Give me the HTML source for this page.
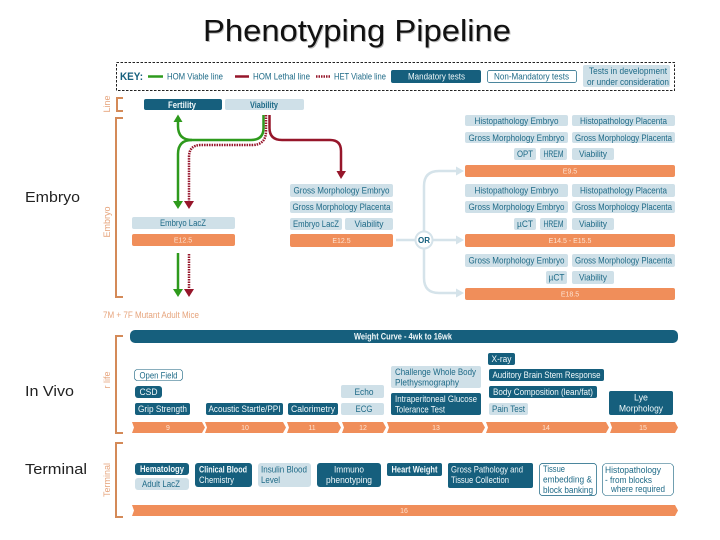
<!DOCTYPE html>
<html><head><meta charset="utf-8">
<style>
html,body{margin:0;padding:0;background:#fff;width:720px;height:540px;overflow:hidden}
svg{display:block}
text{font-family:"Liberation Sans",sans-serif}
.d{fill:#125f7d}.l{fill:#cfe0e8}.o{fill:#f08e5a}
.w{fill:#f2f8fa;font-size:9px}
.t{fill:#1f6a87;font-size:9px}
.c{text-anchor:middle}
.n{fill:#fde3d2;font-size:7px;text-anchor:middle}
.b{fill:none;stroke:#d48a58;stroke-width:2}
.lab{fill:#e6a47c;font-size:9px;text-anchor:middle}
.sl{fill:none;stroke:#d5e3ea;stroke-width:2.5}
</style></head><body>
<svg width="720" height="540" viewBox="0 0 720 540" xmlns="http://www.w3.org/2000/svg">
<defs><filter id="s" x="-5%" y="-5%" width="110%" height="110%"><feGaussianBlur stdDeviation="0.3"/></filter></defs>
<rect width="720" height="540" fill="#fff"/>
<text x="204" y="42" font-size="31" fill="#bbb" textLength="308" lengthAdjust="spacingAndGlyphs">Phenotyping Pipeline</text>
<text x="203" y="41" font-size="31" fill="#111" textLength="308" lengthAdjust="spacingAndGlyphs">Phenotyping Pipeline</text>
<text x="25" y="202" font-size="15" fill="#222" textLength="55" lengthAdjust="spacingAndGlyphs">Embryo</text>
<text x="25" y="396" font-size="15" fill="#222" textLength="49" lengthAdjust="spacingAndGlyphs">In Vivo</text>
<text x="25" y="474" font-size="15" fill="#222" textLength="62" lengthAdjust="spacingAndGlyphs">Terminal</text>

<g filter="url(#s)">
<!-- key -->
<rect x="116.500" y="62.500" width="558" height="28" fill="none" stroke="#222" stroke-width="1" stroke-dasharray="2.500 1.500"/>
<text x="120" y="80" font-size="11" font-weight="bold" fill="#125f7d" textLength="23" lengthAdjust="spacingAndGlyphs">KEY:</text>
<path d="M148 76.500H163" stroke="#2f9a1f" stroke-width="2.500"/>
<text x="167" y="79.500" class="t" textLength="56" lengthAdjust="spacingAndGlyphs">HOM Viable line</text>
<path d="M235 76.500H249" stroke="#96142c" stroke-width="2.500"/>
<text x="253" y="79.500" class="t" textLength="57" lengthAdjust="spacingAndGlyphs">HOM Lethal line</text>
<path d="M316 76.500H330" stroke="#96142c" stroke-width="2.500" stroke-dasharray="1.500 1"/>
<text x="334" y="79.500" class="t" textLength="52" lengthAdjust="spacingAndGlyphs">HET Viable line</text>
<rect x="391" y="70" width="90" height="13" rx="2" class="d"/>
<text x="408" y="79.500" class="w" textLength="57" lengthAdjust="spacingAndGlyphs">Mandatory tests</text>
<rect x="487.500" y="70.500" width="89" height="12" rx="2" fill="#fff" stroke="#125f7d" stroke-width="0.700"/>
<text x="494" y="79.500" class="t" textLength="75" lengthAdjust="spacingAndGlyphs">Non-Mandatory tests</text>
<rect x="583" y="65" width="87" height="22" rx="2" class="l"/>
<text x="589" y="74" class="t" textLength="78" lengthAdjust="spacingAndGlyphs">Tests in development</text>
<text x="587" y="85" class="t" textLength="82" lengthAdjust="spacingAndGlyphs">or under consideration</text>

<!-- brackets -->
<path class="b" d="M123 98H117V111H123"/>
<path class="b" d="M123 118H116V297H123"/>
<path class="b" d="M123 336H116V433H123"/>
<path class="b" d="M123 443H116V517H123"/>
<text class="lab" transform="translate(110,104) rotate(-90)">Line</text>
<text class="lab" transform="translate(110,222) rotate(-90)">Embryo</text>
<text class="lab" transform="translate(110,380) rotate(-90)">r life</text>
<text class="lab" transform="translate(110,480) rotate(-90)">Terminal</text>
<text x="103" y="318" fill="#e6a47c" font-size="9" textLength="96" lengthAdjust="spacingAndGlyphs">7M + 7F Mutant Adult Mice</text>

<!-- top row -->
<rect x="144" y="99" width="78" height="11" rx="2" class="d"/>
<text x="182" y="108" class="w c" font-weight="bold" textLength="28" lengthAdjust="spacingAndGlyphs">Fertility</text>
<rect x="225" y="99" width="79" height="11" rx="2" class="l"/>
<text x="264" y="108" class="t c" font-weight="bold" textLength="28" lengthAdjust="spacingAndGlyphs">Viability</text>

<!-- arrows -->
<g fill="none" stroke-width="2.500">
<path d="M263.500 115V128Q263.500 140 251 140H192Q178 140 178 126V120" stroke="#2f9a1f"/>
<path d="M192 140Q178 140 178 154V202" stroke="#2f9a1f"/>
<path d="M266 115V131Q266 145 252 145H201Q189 145 189 157V202" stroke="#96142c" stroke-dasharray="1.500 1"/>
<path d="M269.500 115V128Q269.500 140 282 140H330Q341 140 341 151V172" stroke="#96142c"/>
<path d="M178 253V291" stroke="#2f9a1f"/>
<path d="M189 254V291" stroke="#96142c" stroke-dasharray="1.500 1"/>
</g>
<path d="M173.500 122L178 114.500L182.500 122Z" fill="#2f9a1f"/>
<path d="M173 201L183 201L178 209Z" fill="#2f9a1f"/>
<path d="M184 201L194 201L189 209Z" fill="#96142c"/>
<path d="M336.500 171L346 171L341 179Z" fill="#96142c"/>
<path d="M173 289L183 289L178 297Z" fill="#2f9a1f"/>
<path d="M184 289L194 289L189 297Z" fill="#96142c"/>

<!-- left embryo -->
<rect x="132" y="217" width="103" height="12" rx="2" class="l"/>
<text x="183" y="226" class="t c" textLength="46" lengthAdjust="spacingAndGlyphs">Embryo LacZ</text>
<rect x="132" y="234" width="103" height="12" rx="2" class="o"/>
<text x="183" y="242.500" class="n">E12.5</text>

<!-- middle -->
<rect x="290" y="184" width="103" height="13" rx="2" class="l"/>
<text x="341.500" y="193.500" class="t c" textLength="96" lengthAdjust="spacingAndGlyphs">Gross Morphology Embryo</text>
<rect x="290" y="201" width="103" height="12" rx="2" class="l"/>
<text x="341.500" y="210" class="t c" textLength="98" lengthAdjust="spacingAndGlyphs">Gross Morphology Placenta</text>
<rect x="290" y="218" width="52" height="12" rx="2" class="l"/>
<text x="316" y="227" class="t c" textLength="46" lengthAdjust="spacingAndGlyphs">Embryo LacZ</text>
<rect x="345" y="218" width="48" height="12" rx="2" class="l"/>
<text x="369" y="227" class="t c" textLength="29" lengthAdjust="spacingAndGlyphs">Viability</text>
<rect x="290" y="234" width="103" height="13" rx="2" class="o"/>
<text x="341.500" y="243" class="n">E12.5</text>

<!-- OR connector -->
<path class="sl" d="M396 240H416M432 240H458"/>
<path class="sl" d="M424 232V186Q424 171 439 171H458"/>
<path class="sl" d="M424 248V278Q424 293 439 293H458"/>
<path d="M456 166.500L464 171L456 175.500ZM456 235.500L464 240L456 244.500ZM456 288.500L464 293L456 297.500Z" fill="#d5e3ea"/>
<circle cx="424" cy="240" r="8.500" fill="#fff" stroke="#d5e3ea" stroke-width="2"/>
<text x="424" y="243" font-size="8" font-weight="bold" fill="#125f7d" class="c">OR</text>

<!-- right column -->
<rect x="465" y="115" width="103" height="11" rx="2" class="l"/>
<text x="516.500" y="124" class="t c" textLength="84" lengthAdjust="spacingAndGlyphs">Histopathology Embryo</text>
<rect x="572" y="115" width="103" height="11" rx="2" class="l"/>
<text x="623.500" y="124" class="t c" textLength="87" lengthAdjust="spacingAndGlyphs">Histopathology Placenta</text>
<rect x="465" y="132" width="103" height="11" rx="2" class="l"/>
<text x="516.500" y="141" class="t c" textLength="96" lengthAdjust="spacingAndGlyphs">Gross Morphology Embryo</text>
<rect x="572" y="132" width="103" height="11" rx="2" class="l"/>
<text x="623.500" y="141" class="t c" textLength="97" lengthAdjust="spacingAndGlyphs">Gross Morphology Placenta</text>
<rect x="514" y="148" width="22" height="12" rx="2" class="l"/>
<text x="525" y="157" class="t c" textLength="16" lengthAdjust="spacingAndGlyphs">OPT</text>
<rect x="540" y="148" width="27" height="12" rx="2" class="l"/>
<text x="553.500" y="157" class="t c" textLength="20" lengthAdjust="spacingAndGlyphs">HREM</text>
<rect x="572" y="148" width="42" height="12" rx="2" class="l"/>
<text x="593" y="157" class="t c" textLength="28" lengthAdjust="spacingAndGlyphs">Viability</text>
<rect x="465" y="165" width="210" height="12" rx="2" class="o"/>
<text x="570" y="173.500" class="n">E9.5</text>

<rect x="465" y="184" width="103" height="13" rx="2" class="l"/>
<text x="516.500" y="193.500" class="t c" textLength="84" lengthAdjust="spacingAndGlyphs">Histopathology Embryo</text>
<rect x="572" y="184" width="103" height="13" rx="2" class="l"/>
<text x="623.500" y="193.500" class="t c" textLength="87" lengthAdjust="spacingAndGlyphs">Histopathology Placenta</text>
<rect x="465" y="201" width="103" height="12" rx="2" class="l"/>
<text x="516.500" y="210" class="t c" textLength="96" lengthAdjust="spacingAndGlyphs">Gross Morphology Embryo</text>
<rect x="572" y="201" width="103" height="12" rx="2" class="l"/>
<text x="623.500" y="210" class="t c" textLength="97" lengthAdjust="spacingAndGlyphs">Gross Morphology Placenta</text>
<rect x="514" y="218" width="22" height="12" rx="2" class="l"/>
<text x="525" y="227" class="t c" textLength="16" lengthAdjust="spacingAndGlyphs">µCT</text>
<rect x="540" y="218" width="27" height="12" rx="2" class="l"/>
<text x="553.500" y="227" class="t c" textLength="20" lengthAdjust="spacingAndGlyphs">HREM</text>
<rect x="572" y="218" width="42" height="12" rx="2" class="l"/>
<text x="593" y="227" class="t c" textLength="28" lengthAdjust="spacingAndGlyphs">Viability</text>
<rect x="465" y="234" width="210" height="13" rx="2" class="o"/>
<text x="570" y="243" class="n">E14.5 - E15.5</text>

<rect x="465" y="254" width="103" height="13" rx="2" class="l"/>
<text x="516.500" y="263.500" class="t c" textLength="96" lengthAdjust="spacingAndGlyphs">Gross Morphology Embryo</text>
<rect x="572" y="254" width="103" height="13" rx="2" class="l"/>
<text x="623.500" y="263.500" class="t c" textLength="97" lengthAdjust="spacingAndGlyphs">Gross Morphology Placenta</text>
<rect x="546" y="271" width="21" height="13" rx="2" class="l"/>
<text x="556.500" y="280.500" class="t c" textLength="16" lengthAdjust="spacingAndGlyphs">µCT</text>
<rect x="572" y="271" width="42" height="13" rx="2" class="l"/>
<text x="593" y="280.500" class="t c" textLength="28" lengthAdjust="spacingAndGlyphs">Viability</text>
<rect x="465" y="288" width="210" height="12" rx="2" class="o"/>
<text x="570" y="296.500" class="n">E18.5</text>

<!-- in life -->
<rect x="130" y="330" width="548" height="13" rx="5" class="d"/>
<text x="403" y="339.500" class="w c" font-weight="bold" textLength="98" lengthAdjust="spacingAndGlyphs">Weight Curve - 4wk to 16wk</text>
<rect x="134.500" y="369.500" width="48" height="11" rx="3" fill="#fff" stroke="#125f7d" stroke-width="0.600"/>
<text x="158.500" y="378.500" class="t c" textLength="38" lengthAdjust="spacingAndGlyphs">Open Field</text>
<rect x="135" y="386" width="27" height="12" rx="3" class="d"/>
<text x="148.500" y="395" class="w c" textLength="18" lengthAdjust="spacingAndGlyphs">CSD</text>
<rect x="135" y="403" width="55" height="12" rx="2" class="d"/>
<text x="162.500" y="412" class="w c" textLength="49" lengthAdjust="spacingAndGlyphs">Grip Strength</text>
<rect x="206" y="403" width="77" height="12" rx="2" class="d"/>
<text x="244.500" y="412" class="w c" textLength="72" lengthAdjust="spacingAndGlyphs">Acoustic Startle/PPI</text>
<rect x="288" y="403" width="50" height="12" rx="2" class="d"/>
<text x="313" y="412" class="w c" textLength="44" lengthAdjust="spacingAndGlyphs">Calorimetry</text>
<rect x="341" y="385" width="43" height="13" rx="2" class="l"/>
<text x="364" y="395" class="t c" textLength="19" lengthAdjust="spacingAndGlyphs">Echo</text>
<rect x="341" y="403" width="43" height="12" rx="2" class="l"/>
<text x="364" y="412" class="t c" textLength="17" lengthAdjust="spacingAndGlyphs">ECG</text>
<rect x="391" y="366" width="90" height="22" rx="2" class="l"/>
<text x="395" y="375" class="t" textLength="81" lengthAdjust="spacingAndGlyphs">Challenge Whole Body</text>
<text x="395" y="385.500" class="t" textLength="64" lengthAdjust="spacingAndGlyphs">Plethysmography</text>
<rect x="391" y="393" width="90" height="22" rx="2" class="d"/>
<text x="395" y="402" class="w" textLength="82" lengthAdjust="spacingAndGlyphs">Intraperitoneal Glucose</text>
<text x="395" y="412.500" class="w" textLength="50" lengthAdjust="spacingAndGlyphs">Tolerance Test</text>
<rect x="488" y="353" width="27" height="12" rx="2" class="d"/>
<text x="501.500" y="362" class="w c" textLength="20" lengthAdjust="spacingAndGlyphs">X-ray</text>
<rect x="489" y="369" width="115" height="12" rx="2" class="d"/>
<text x="546.500" y="378" class="w c" textLength="108" lengthAdjust="spacingAndGlyphs">Auditory Brain Stem Response</text>
<rect x="489" y="386" width="108" height="12" rx="2" class="d"/>
<text x="543" y="395" class="w c" textLength="100" lengthAdjust="spacingAndGlyphs">Body Composition (lean/fat)</text>
<rect x="489" y="403" width="39" height="12" rx="2" class="l"/>
<text x="508.500" y="412" class="t c" textLength="33" lengthAdjust="spacingAndGlyphs">Pain Test</text>
<rect x="609" y="391" width="64" height="24" rx="2" class="d"/>
<text x="641" y="400.500" class="w c" textLength="14" lengthAdjust="spacingAndGlyphs">Lye</text>
<text x="641" y="411.500" class="w c" textLength="44" lengthAdjust="spacingAndGlyphs">Morphology</text>

<!-- timeline -->
<g class="o">
<path d="M132 422H202L205 427.500L202 433H132L134 427.500Z"/>
<path d="M205 422H283L286 427.500L283 433H205L207 427.500Z"/>
<path d="M287 422H338L341 427.500L338 433H287L289 427.500Z"/>
<path d="M342 422H383L386 427.500L383 433H342L344 427.500Z"/>
<path d="M387 422H482L485 427.500L482 433H387L389 427.500Z"/>
<path d="M486 422H606L609 427.500L606 433H486L488 427.500Z"/>
<path d="M610 422H675L678 427.500L675 433H610L612 427.500Z"/>
</g>
<text x="168" y="430" class="n">9</text>
<text x="245" y="430" class="n">10</text>
<text x="312" y="430" class="n">11</text>
<text x="363" y="430" class="n">12</text>
<text x="436" y="430" class="n">13</text>
<text x="546" y="430" class="n">14</text>
<text x="643" y="430" class="n">15</text>

<!-- terminal -->
<rect x="135" y="463" width="54" height="12" rx="3" class="d"/>
<text x="162" y="472" class="w c" font-weight="bold" textLength="44" lengthAdjust="spacingAndGlyphs">Hematology</text>
<rect x="135" y="478" width="54" height="12" rx="3" class="l"/>
<text x="161" y="487" class="t c" textLength="38" lengthAdjust="spacingAndGlyphs">Adult LacZ</text>
<rect x="195" y="463" width="57" height="24" rx="3" class="d"/>
<text x="199" y="472.500" class="w" font-weight="bold" textLength="48" lengthAdjust="spacingAndGlyphs">Clinical Blood</text>
<text x="199" y="483" class="w" textLength="35" lengthAdjust="spacingAndGlyphs">Chemistry</text>
<rect x="258" y="463" width="53" height="24" rx="3" class="l"/>
<text x="261" y="472.500" class="t" textLength="46" lengthAdjust="spacingAndGlyphs">Insulin Blood</text>
<text x="261" y="483" class="t" textLength="19" lengthAdjust="spacingAndGlyphs">Level</text>
<rect x="317" y="463" width="64" height="24" rx="3" class="d"/>
<text x="349" y="472.500" class="w c" textLength="30" lengthAdjust="spacingAndGlyphs">Immuno</text>
<text x="349" y="483" class="w c" textLength="46" lengthAdjust="spacingAndGlyphs">phenotyping</text>
<rect x="387" y="463" width="55" height="13" rx="2" class="d"/>
<text x="414.500" y="472.500" class="w c" font-weight="bold" textLength="46" lengthAdjust="spacingAndGlyphs">Heart Weight</text>
<rect x="448" y="463" width="85" height="25" rx="2" class="d"/>
<text x="451" y="472.500" class="w" textLength="72" lengthAdjust="spacingAndGlyphs">Gross Pathology and</text>
<text x="451" y="483" class="w" textLength="58" lengthAdjust="spacingAndGlyphs">Tissue Collection</text>
<rect x="539.500" y="463.500" width="57" height="32" rx="3" fill="#fff" stroke="#125f7d" stroke-width="0.700"/>
<text x="543" y="472" class="t" textLength="22" lengthAdjust="spacingAndGlyphs">Tissue</text>
<text x="543" y="482.500" class="t" textLength="49" lengthAdjust="spacingAndGlyphs">embedding &amp;</text>
<text x="543" y="493" class="t" textLength="50" lengthAdjust="spacingAndGlyphs">block banking</text>
<rect x="602.500" y="463.500" width="71" height="32" rx="4" fill="#fff" stroke="#125f7d" stroke-width="0.600"/>
<text x="605" y="473" class="t" textLength="56" lengthAdjust="spacingAndGlyphs">Histopathology</text>
<text x="605" y="483" class="t" textLength="47" lengthAdjust="spacingAndGlyphs">- from blocks</text>
<text x="611" y="492" class="t" textLength="54" lengthAdjust="spacingAndGlyphs">where required</text>
<path class="o" d="M132 505H675L678 510.500L675 516H132L134 510.500Z"/>
<text x="404" y="513" class="n">16</text>
</g>
</svg>
</body></html>
